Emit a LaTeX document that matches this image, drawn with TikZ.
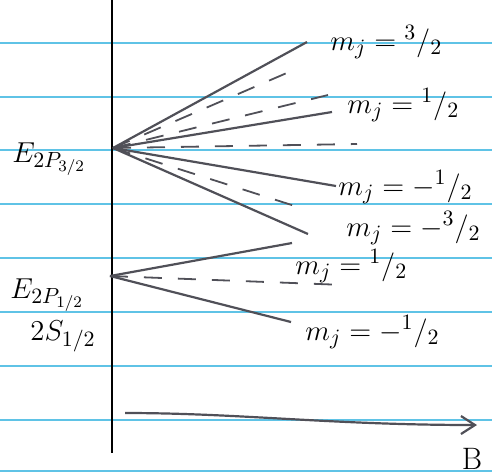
\documentclass[tikz,border=0pt]{standalone}
\usepackage{amsmath}
\usepackage{xcolor}
\usepackage{tikz}
\usetikzlibrary{positioning,arrows.meta,calc}
\definecolor{ruled}{RGB}{95,195,230}
\definecolor{pencil}{RGB}{80,80,88}

\begin{document}
\begin{tikzpicture}[
      x=0.5pt, y=-0.5pt,
      every node/.style={font=\fontsize{15.5}{18}\selectfont},
      ruleline/.style={ruled, line width=0.8pt},
      splitline/.style={pencil, line width=1.1pt},
      dashline/.style={pencil, line width=0.9pt, dash pattern=on 9pt off 8pt},
      mlabel/.style={anchor=base west, inner sep=0pt},
    ]
    \useasboundingbox (0,0) rectangle (492,473);

    % --- ruled paper ---
    \foreach \y in {43,97,150,204,258,312,366,420,471} {
      \draw[ruleline] (0,\y) -- (492,\y);
    }

    % --- energy axis ---
    \coordinate (axtop) at (112,0);
    \coordinate (axbot) at (112,453);
    \draw[black, line width=1.2pt] (axtop) -- (axbot);

    % --- 2P 3/2 level ---
    \coordinate (p32) at (113,148);
    \node[anchor=base west, inner sep=0pt] (E32) at (12,162) {$E_{2P_{3/2}}$};
    \foreach \name/\pos in {a/{307,42}, b/{332,112}, c/{336,186}, d/{308,234}} {
      \coordinate (end\name) at (\pos);
      \draw[splitline] (p32) -- (end\name);
    }
    \foreach \name/\pos in {e/{296,69}, f/{328,95}, g/{357,144}, h/{298,207}} {
      \coordinate (end\name) at (\pos);
      \draw[dashline] (p32) -- (end\name);
    }
    \node[mlabel] (m1) at (330,50)  {$m_j = {}^{3}/_{2}$};
    \node[mlabel] (m2) at (347,113) {$m_j = {}^{1}/_{2}$};
    \node[mlabel] (m3) at (338,195) {$m_j = -{}^{1}/_{2}$};
    \node[mlabel] (m4) at (346,236) {$m_j = -{}^{3}/_{2}$};

    % --- 2P 1/2 and 2S 1/2 level ---
    \coordinate (p12) at (110,276);
    \node[anchor=base west, inner sep=0pt] (E12) at (10,298) {$E_{2P_{1/2}}$};
    \node[anchor=base west, inner sep=0pt] (S12) at (30,340) {$2S_{1/2}$};
    \coordinate (endi) at (292,243);
    \coordinate (endj) at (291,322);
    \coordinate (endk) at (345,285);
    \draw[splitline] (p12) -- (endi);
    \draw[splitline] (p12) -- (endj);
    \draw[dashline] (p12) -- (endk);
    \node[mlabel] (m5) at (295,274) {$m_j = {}^{1}/_{2}$};
    \node[mlabel] (m6) at (305,340) {$m_j = -{}^{1}/_{2}$};

    % --- field axis ---
    \coordinate (bstart) at (125,413);
    \coordinate (bend) at (477,425);
    \draw[pencil, line width=1.1pt, -{Straight Barb[length=7pt,width=9pt]}]
      (bstart) .. controls (240,413) and (330,425) .. (bend);
    \node[anchor=base, inner sep=0pt] (B) at (472,469) {B};
  \end{tikzpicture}
\end{document}
